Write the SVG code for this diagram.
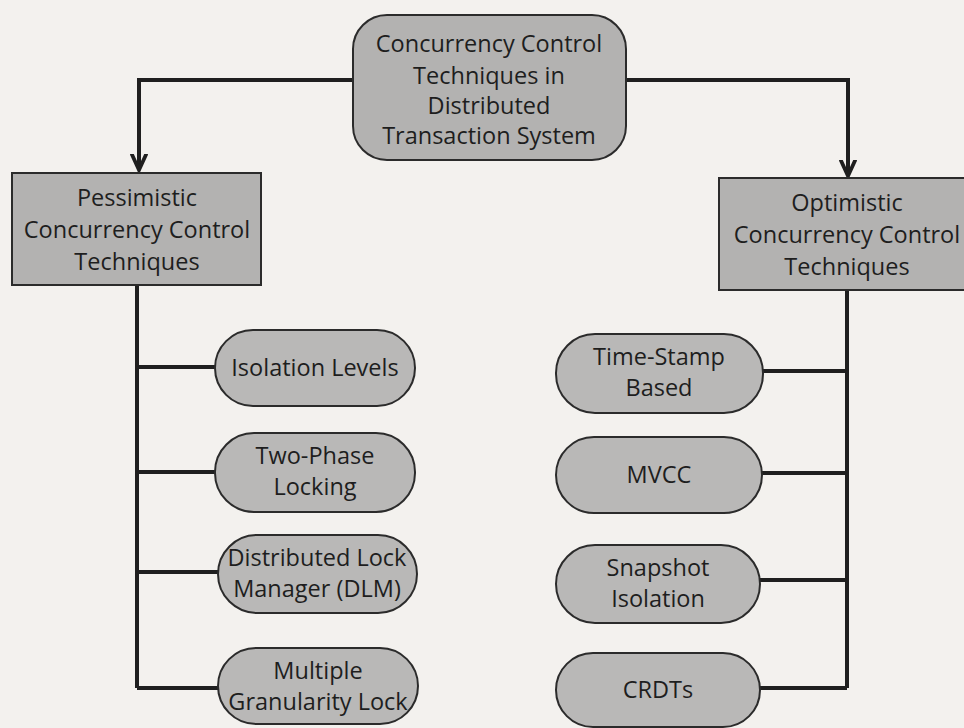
<svg xmlns="http://www.w3.org/2000/svg" width="964" height="728" viewBox="0 0 964 728">
<defs>
<style>
.bg{fill:#f3f1ee}
.box{fill:#b3b2b1;stroke:#2b2b2b;stroke-width:2}
.pill{fill:#b9b8b7;stroke:#2b2b2b;stroke-width:2}
.t{font-family:"Open Sans","Noto Sans","DejaVu Sans",sans-serif;font-size:23.5px;fill:#1e1e1e;text-anchor:middle}
.c{fill:none;stroke:#1f1f1f;stroke-width:4}
</style>
<marker id="ah" viewBox="0 0 12 10" refX="11" refY="5" markerWidth="4.5" markerHeight="4.5" markerUnits="strokeWidth" orient="auto">
<path d="M0,0 L11,5 L0,10" fill="none" stroke="#1f1f1f" stroke-width="2.5"/>
</marker>
</defs>
<rect class="bg" x="0" y="0" width="964" height="728"/>
<g id="connectors">
<path class="c" d="M353,80 H139 V170" marker-end="url(#ah)"/>
<path class="c" d="M626,80 H848 V176" marker-end="url(#ah)"/>
<path class="c" d="M137,285 V688"/>
<path class="c" d="M137,367 H216 M137,472 H216 M137,572 H219 M137,688 H219"/>
<path class="c" d="M847,290 V688"/>
<path class="c" d="M847,371 H763 M847,473 H762 M847,580 H760 M847,688 H760"/>
</g>
<g id="root">
<rect class="box" x="353" y="15" width="273" height="145" rx="34"/>
<text class="t" x="489" y="52">Concurrency Control</text>
<text class="t" x="489" y="84">Techniques in</text>
<text class="t" x="489" y="114">Distributed</text>
<text class="t" x="489" y="144">Transaction System</text>
</g>
<g id="pessimistic">
<rect class="box" x="12" y="173" width="249" height="112"/>
<text class="t" x="137" y="206">Pessimistic</text>
<text class="t" x="137" y="238">Concurrency Control</text>
<text class="t" x="137" y="270">Techniques</text>
</g>
<g id="optimistic">
<rect class="box" x="719" y="178" width="260" height="112"/>
<text class="t" x="847" y="211">Optimistic</text>
<text class="t" x="847" y="243">Concurrency Control</text>
<text class="t" x="847" y="275">Techniques</text>
</g>
<g id="isolation-levels">
<rect class="pill" x="215" y="330" width="200" height="76" rx="38"/>
<text class="t" x="315" y="376">Isolation Levels</text>
</g>
<g id="two-phase-locking">
<rect class="pill" x="215" y="433" width="200" height="79" rx="39"/>
<text class="t" x="315" y="464">Two-Phase</text>
<text class="t" x="315" y="495">Locking</text>
</g>
<g id="dlm">
<rect class="pill" x="218" y="535" width="199" height="78" rx="39"/>
<text class="t" x="317" y="566">Distributed Lock</text>
<text class="t" x="317" y="597">Manager (DLM)</text>
</g>
<g id="multiple-granularity-lock">
<rect class="pill" x="218" y="648" width="200" height="76" rx="38"/>
<text class="t" x="318" y="679">Multiple</text>
<text class="t" x="318" y="710">Granularity Lock</text>
</g>
<g id="time-stamp-based">
<rect class="pill" x="556" y="334" width="207" height="79" rx="39"/>
<text class="t" x="659" y="365">Time-Stamp</text>
<text class="t" x="659" y="396">Based</text>
</g>
<g id="mvcc">
<rect class="pill" x="556" y="437" width="206" height="76" rx="38"/>
<text class="t" x="659" y="483">MVCC</text>
</g>
<g id="snapshot-isolation">
<rect class="pill" x="556" y="545" width="204" height="78" rx="39"/>
<text class="t" x="658" y="576">Snapshot</text>
<text class="t" x="658" y="607">Isolation</text>
</g>
<g id="crdts">
<rect class="pill" x="556" y="653" width="204" height="74" rx="37"/>
<text class="t" x="658" y="698">CRDTs</text>
</g>
</svg>
